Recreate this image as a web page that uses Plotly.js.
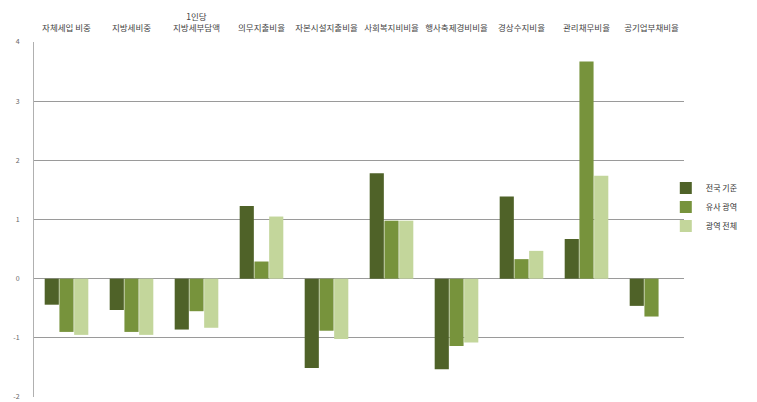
<!DOCTYPE html>
<html>
<head>
<meta charset="utf-8">
<script src="https://cdn.plot.ly/plotly-3.0.1.min.js"></script>
<style>html,body{margin:0;padding:0;background:#fff;}#chart{width:757px;height:402px;}</style>
</head>
<body>
<div id="chart"></div>
<script>
const categories = ["자체세입 비중", "지방세비중", "1인당<br>지방세부담액", "의무지출비율", "자본시설지출비율", "사회복지비비율", "행사축제경비비율", "경상수지비율", "관리채무비율", "공기업부채비율"];
const seriesNames = ["전국 기준", "유사 광역", "광역 전체"];
const national = [-0.44, -0.53, -0.86, 1.23, -1.51, 1.78, -1.53, 1.39, 0.67, -0.46];
const similar = [-0.90, -0.90, -0.55, 0.29, -0.88, 0.98, -1.14, 0.33, 3.67, -0.64];
const allMetro = [-0.95, -0.95, -0.83, 1.05, -1.02, 0.98, -1.08, 0.47, 1.74, null];
const yTicks = [-2, -1, 0, 1, 2, 3, 4];
const colors = ["#4f6228", "#77933c", "#c3d69b"];

const traces = [national, similar, allMetro].map((vals, i) => ({
  type: "bar",
  name: seriesNames[i],
  x: categories,
  y: vals,
  marker: {color: colors[i], line: {width: 0}}
}));

const layout = {
  width: 757, height: 402,
  margin: {l: 34, r: 73, t: 42, b: 5, autoexpand: false},
  paper_bgcolor: "#fff", plot_bgcolor: "#fff",
  barmode: "group", bargap: 0.32, bargroupgap: 0.04,
  font: {family: "'Noto Sans CJK KR', 'Noto Sans', sans-serif", color: "#444", size: 8},
  showlegend: true,
  legend: {x: 0.972, xanchor: "left", y: 0.535, yanchor: "middle",
           font: {size: 8, color: "#333"}, itemwidth: 30, tracegroupgap: 2,
           bgcolor: "rgba(0,0,0,0)"},
  xaxis: {side: "top", type: "category", showgrid: false, zeroline: false,
          showline: false, ticks: "outside", ticklen: 7, tickcolor: "rgba(0,0,0,0)",
          tickfont: {size: 8.5, color: "#444"},
          tickangle: 0, automargin: false},
  yaxis: {range: [-2, 4], tickvals: yTicks, ticktext: yTicks.map(String),
          showgrid: true, gridcolor: "#9a9a9a", gridwidth: 1,
          zeroline: true, zerolinecolor: "#9a9a9a", zerolinewidth: 1,
          showline: true, linecolor: "#b0b0b0", linewidth: 1,
          ticks: "outside", ticklen: 12, tickcolor: "rgba(0,0,0,0)",
          tickfont: {size: 7, color: "#666"}, automargin: false}
};

Plotly.newPlot("chart", traces, layout, {displayModeBar: false, staticPlot: true});
</script>
</body>
</html>
